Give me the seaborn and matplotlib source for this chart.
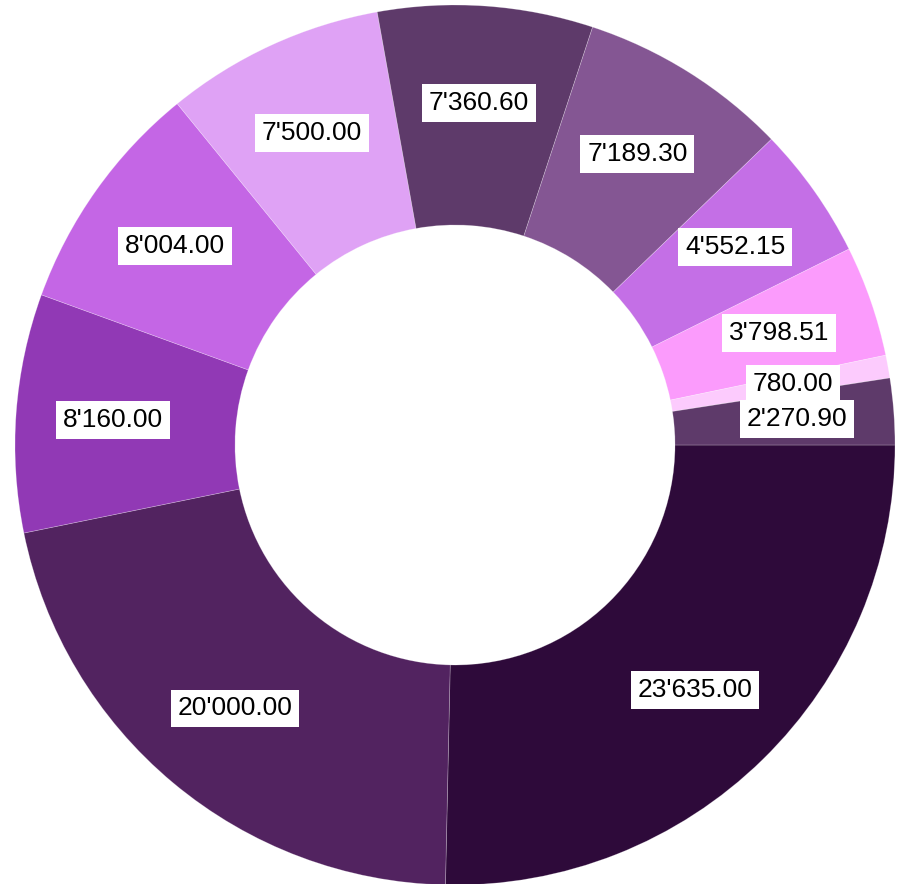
import numpy as np
import seaborn as sns
import matplotlib.pyplot as plt

sns.set_theme(style="white")
plt.rcParams['font.family'] = ['Liberation Sans', 'DejaVu Sans']

# 数据（从 3 点钟方向顺时针）
values = [23635.00, 20000.00, 8160.00, 8004.00, 7500.00, 7360.60,
          7189.30, 4552.15, 3798.51, 780.00, 2270.90]
colors = ['#2e0a3a', '#522360', '#9139b5', '#c466e5', '#dfa2f5', '#5e3a6a',
          '#845693', '#c46fe6', '#fb9bfc', '#fccbfd', '#5e3a6a']
labels = [f"{v:,.2f}".replace(",", "'") for v in values]

fig = plt.figure(figsize=(8.97, 8.84), dpi=100)
ax = fig.add_axes([0, 0, 1, 1])

wedges, _ = ax.pie(values, colors=colors, startangle=0, counterclock=False,
                   radius=440, center=(455, 439),
                   wedgeprops=dict(width=220, edgecolor=(1, 1, 1, 0.3), linewidth=0.5))

# 标签放在环的中间偏外
for w, lab in zip(wedges, labels):
    ang = np.deg2rad((w.theta1 + w.theta2) / 2)
    r = 0.78 * 440
    x = 455 + r * np.cos(ang)
    y = 439 + r * np.sin(ang)
    ax.text(x, y, lab, ha='center', va='center', fontsize=19, color='black',
            bbox=dict(facecolor='white', edgecolor='none', pad=5))

ax.set_xlim(0, 897)
ax.set_ylim(0, 884)
ax.set_aspect('equal')
ax.axis('off')
fig.savefig('out.png', dpi=100)
